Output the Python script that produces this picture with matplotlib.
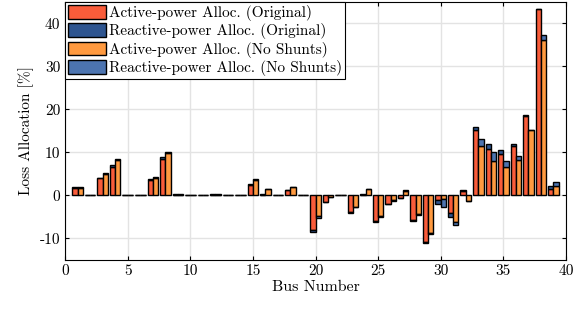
import numpy as np
import matplotlib
matplotlib.use("Agg")
import matplotlib.pyplot as plt

plt.rcParams["font.family"] = "serif"
plt.rcParams["font.serif"] = ["cmr10", "DejaVu Serif"]
plt.rcParams["axes.unicode_minus"] = False
plt.rcParams["mathtext.fontset"] = "cm"

# loss allocation per bus [%]
buses = np.arange(1, 40)
orig_active = [1.7, 0, 4.0, 6.7, 0, 0, 3.5, 8.4, 0.1, 0,
               0, 0.1, 0, 0, 2.3, 0.1, 0, 1.2, 0, -8.1,
               -1.5, 0, -3.9, 0.2, -6.0, -1.9, -0.5, -5.8, -10.8, -1.0,
               -4.1, 1.1, 15.2, 10.8, 9.7, 11.4, 18.5, 43.3, 1.5]
orig_reactive = [0.2, 0, 0.1, 0.3, 0, 0, 0.2, 0.6, 0.3, 0,
                 0, 0.2, 0, 0, 0.3, 0.2, 0, 0.1, 0, -0.3,
                 -0.1, 0, -0.1, 0.1, -0.1, -0.1, -0.1, -0.2, -0.2, -0.9,
                 -0.9, 0.15, 0.7, 1.2, 0.8, 0.5, 0.1, 0.1, 0.7]
ns_active = [1.8, 0, 5.0, 8.2, 0, 0, 4.0, 9.9, 0.1, 0,
             0, 0.1, 0, 0, 3.6, 1.5, 0, 1.9, 0, -4.7,
             -0.3, 0, -2.7, 1.4, -4.9, -1.1, 1.0, -4.4, -8.8, -0.8,
             -6.1, -1.2, 11.5, 8.0, 6.5, 8.2, 15.2, 36.2, 2.2]
ns_reactive = [0.2, 0, 0.1, 0.3, 0, 0, 0.2, 0.3, 0.3, 0,
               0, 0.2, 0, 0, 0.3, 0.1, 0, 0.1, 0, -0.5,
               -0.1, 0, -0.1, 0.05, -0.1, -0.1, 0.2, -0.1, -0.2, -1.9,
               -0.9, -0.1, 1.7, 2.0, 1.4, 1.0, 0.1, 1.2, 1.0]

labels = ["Active-power Alloc. (Original)", "Reactive-power Alloc. (Original)",
          "Active-power Alloc. (No Shunts)", "Reactive-power Alloc. (No Shunts)"]
colors = ["#F95C3A", "#2E5590", "#FF9A40", "#4C74B0"]

fig = plt.figure(figsize=(5.87, 3.12), dpi=100)
ax = fig.add_axes([0.111, 0.167, 0.853, 0.827])

w = 0.42
off = 0.21
kw = dict(width=w, edgecolor="black", linewidth=1.0, zorder=3)
ax.bar(buses - off, orig_active, color=colors[0], label=labels[0], **kw)
ax.bar(buses - off, orig_reactive, bottom=orig_active, color=colors[1], label=labels[1], **kw)
ax.bar(buses + off, ns_active, color=colors[2], label=labels[2], **kw)
ax.bar(buses + off, ns_reactive, bottom=ns_active, color=colors[3], label=labels[3], **kw)

ax.set_xlim(0, 40)
ax.set_ylim(-15, 45)
ax.set_xticks(np.arange(0, 41, 5))
ax.set_yticks(np.arange(-10, 41, 10))
ax.grid(True, color="#e3e3e3", linewidth=1.0, zorder=0)
ax.set_axisbelow(True)
ax.tick_params(direction="in", top=True, right=True, labelsize=11, length=3)
for s in ax.spines.values():
    s.set_linewidth(0.8)
ax.set_xlabel("Bus Number", fontsize=11.5, labelpad=1)
ax.set_ylabel("Loss Allocation [%]", fontsize=11, labelpad=4)

leg = ax.legend(loc="upper left", fontsize=11, frameon=True, fancybox=False,
                framealpha=1, edgecolor="black", borderaxespad=0, borderpad=0.2,
                labelspacing=0.15, handlelength=2.5, handleheight=1.0,
                handletextpad=0.15)
leg.get_frame().set_linewidth(0.8)

fig.savefig("out.png", dpi=100)
